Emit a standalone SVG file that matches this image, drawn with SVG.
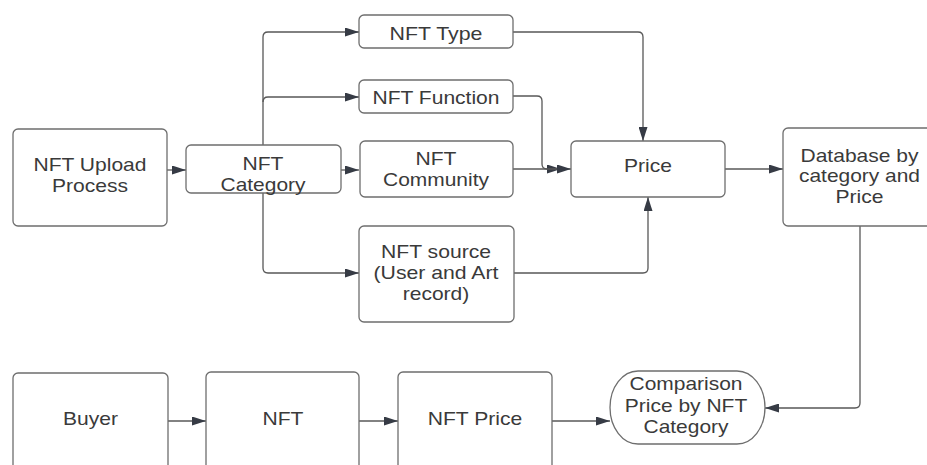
<svg xmlns="http://www.w3.org/2000/svg" width="927" height="465" viewBox="0 0 927 465">
<style>
.box{fill:#fff;stroke:#6e6e6e;stroke-width:1.3}
.lbl{font-family:"Liberation Sans",Arial,sans-serif;font-size:18.5px;fill:#3a3a3a;text-anchor:middle}
.edge{fill:none;stroke:#585858;stroke-width:1.3}
.arr{marker-end:url(#ah)}
</style>
<defs>
<marker id="ah" markerUnits="userSpaceOnUse" markerWidth="14" markerHeight="9" refX="14" refY="4.5" orient="auto">
<path d="M0,0 L14,4.5 L0,9 z" fill="#363b45"/>
</marker>
</defs>
<rect width="927" height="465" fill="#fff"/>
<g id="connectors">
<path class="edge arr" d="M167,170 H186"/>
<path class="edge arr" d="M341,170 H359"/>
<path class="edge arr" d="M263,145 V37 q0,-5 5,-5 H359"/>
<path class="edge arr" d="M263,102 q0,-5 5,-5 H359"/>
<path class="edge arr" d="M263,193 V268 q0,5 5,5 H359"/>
<path class="edge arr" d="M513,32 H638 q5,0 5,5 V141"/>
<path class="edge arr" d="M513,96 H537 q5,0 5,5 V164 q0,5 5,5 H561"/>
<path class="edge arr" d="M513,169 H571"/>
<path class="edge arr" d="M514,273 H643 q5,0 5,-5 V197"/>
<path class="edge arr" d="M725,169 H783"/>
<path class="edge arr" d="M860,226 V403 q0,5 -5,5 H765"/>
<path class="edge arr" d="M168,421 H206"/>
<path class="edge arr" d="M359,421 H398"/>
<path class="edge arr" d="M552,421 H610"/>
</g>
<g id="upload">
<rect class="box" x="13" y="129" width="154" height="97" rx="5"/>
<text class="lbl" x="90" y="171" textLength="113" lengthAdjust="spacingAndGlyphs">NFT Upload</text>
<text class="lbl" x="90" y="192" textLength="76" lengthAdjust="spacingAndGlyphs">Process</text>
</g>
<g id="category">
<rect class="box" x="186" y="145" width="155" height="48" rx="5"/>
<text class="lbl" x="263" y="169.5" textLength="41" lengthAdjust="spacingAndGlyphs">NFT</text>
<text class="lbl" x="263" y="190.5" textLength="85" lengthAdjust="spacingAndGlyphs">Category</text>
</g>
<g id="type">
<rect class="box" x="359" y="15" width="154" height="33" rx="5"/>
<text class="lbl" x="436" y="40" textLength="93" lengthAdjust="spacingAndGlyphs">NFT Type</text>
</g>
<g id="function">
<rect class="box" x="359" y="80" width="154" height="33" rx="5"/>
<text class="lbl" x="436" y="104.3" textLength="127" lengthAdjust="spacingAndGlyphs">NFT Function</text>
</g>
<g id="community">
<rect class="box" x="360" y="141" width="153" height="56" rx="5"/>
<text class="lbl" x="436" y="165" textLength="41" lengthAdjust="spacingAndGlyphs">NFT</text>
<text class="lbl" x="436" y="186" textLength="106" lengthAdjust="spacingAndGlyphs">Community</text>
</g>
<g id="source">
<rect class="box" x="359" y="226" width="155" height="96" rx="5"/>
<text class="lbl" x="436" y="257.5" textLength="110" lengthAdjust="spacingAndGlyphs">NFT source</text>
<text class="lbl" x="436" y="278.7" textLength="125" lengthAdjust="spacingAndGlyphs">(User and Art</text>
<text class="lbl" x="436" y="300" textLength="66.5" lengthAdjust="spacingAndGlyphs">record)</text>
</g>
<g id="price">
<rect class="box" x="571" y="141" width="154" height="56" rx="5"/>
<text class="lbl" x="648" y="172.3" textLength="48" lengthAdjust="spacingAndGlyphs">Price</text>
</g>
<g id="database">
<rect class="box" x="783" y="128" width="160" height="98" rx="5"/>
<text class="lbl" x="859.5" y="161.7" textLength="118" lengthAdjust="spacingAndGlyphs">Database by</text>
<text class="lbl" x="859.5" y="182.3" textLength="121" lengthAdjust="spacingAndGlyphs">category and</text>
<text class="lbl" x="859.5" y="202.5" textLength="48" lengthAdjust="spacingAndGlyphs">Price</text>
</g>
<g id="buyer">
<rect class="box" x="13" y="373" width="155" height="110" rx="5"/>
<text class="lbl" x="90.5" y="424.5" textLength="55" lengthAdjust="spacingAndGlyphs">Buyer</text>
</g>
<g id="nft">
<rect class="box" x="206" y="372" width="153" height="110" rx="5"/>
<text class="lbl" x="283" y="424.5" textLength="41" lengthAdjust="spacingAndGlyphs">NFT</text>
</g>
<g id="nftprice">
<rect class="box" x="398" y="372" width="154" height="110" rx="5"/>
<text class="lbl" x="475" y="424.5" textLength="94.5" lengthAdjust="spacingAndGlyphs">NFT Price</text>
</g>
<g id="comparison">
<rect class="box" x="610" y="371" width="155" height="73" rx="28" ry="36.5"/>
<text class="lbl" x="686" y="390" textLength="113" lengthAdjust="spacingAndGlyphs">Comparison</text>
<text class="lbl" x="686" y="411.7" textLength="122.5" lengthAdjust="spacingAndGlyphs">Price by NFT</text>
<text class="lbl" x="686" y="433.3" textLength="85" lengthAdjust="spacingAndGlyphs">Category</text>
</g>
</svg>
